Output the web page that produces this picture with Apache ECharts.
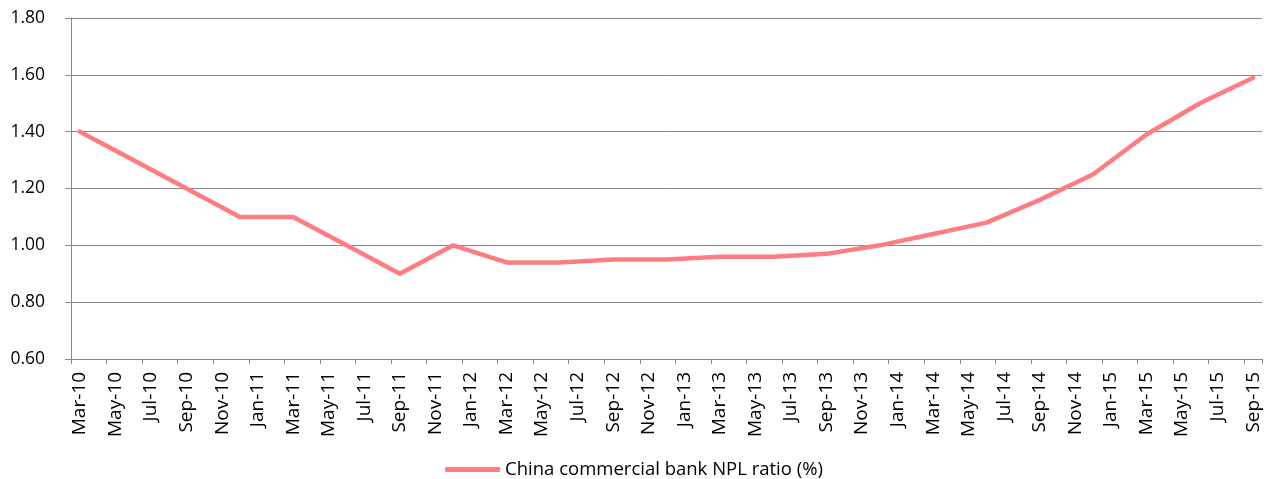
<!DOCTYPE html>
<html>
<head>
<meta charset="utf-8">
<script src="https://cdn.jsdelivr.net/npm/echarts@6/dist/echarts.min.js"></script>
<style>html,body{margin:0;padding:0;background:#fff}#c{width:1268px;height:479px}</style>
</head>
<body>
<div id="c"></div>
<script>
const months = [
 'Mar-10','Apr-10','May-10','Jun-10','Jul-10','Aug-10','Sep-10','Oct-10','Nov-10','Dec-10',
 'Jan-11','Feb-11','Mar-11','Apr-11','May-11','Jun-11','Jul-11','Aug-11','Sep-11','Oct-11','Nov-11','Dec-11',
 'Jan-12','Feb-12','Mar-12','Apr-12','May-12','Jun-12','Jul-12','Aug-12','Sep-12','Oct-12','Nov-12','Dec-12',
 'Jan-13','Feb-13','Mar-13','Apr-13','May-13','Jun-13','Jul-13','Aug-13','Sep-13','Oct-13','Nov-13','Dec-13',
 'Jan-14','Feb-14','Mar-14','Apr-14','May-14','Jun-14','Jul-14','Aug-14','Sep-14','Oct-14','Nov-14','Dec-14',
 'Jan-15','Feb-15','Mar-15','Apr-15','May-15','Jun-15','Jul-15','Aug-15','Sep-15'
];
const quarterDates = [
 'Mar-10','Jun-10','Sep-10','Dec-10','Mar-11','Jun-11','Sep-11','Dec-11',
 'Mar-12','Jun-12','Sep-12','Dec-12','Mar-13','Jun-13','Sep-13','Dec-13',
 'Mar-14','Jun-14','Sep-14','Dec-14','Mar-15','Jun-15','Sep-15'
];
const nplRatio = [
 1.40,1.30,1.20,1.10,1.10,1.00,0.90,1.00,
 0.94,0.94,0.95,0.95,0.96,0.96,0.97,1.00,
 1.04,1.08,1.16,1.25,1.39,1.50,1.59
];
const seriesName = 'China commercial bank NPL ratio (%)';
const yTicks = {min:0.6, max:1.8, interval:0.2};

const chart = echarts.init(document.getElementById('c'), null, {renderer:'canvas'});
const font = 'Open Sans';
chart.setOption({
  animation:false,
  backgroundColor:'#ffffff',
  grid:{left:71, right:6, top:18, bottom:120, containLabel:false},
  legend:{
    top:455, left:'center',
    data:[{name:seriesName, icon:'roundRect'}],
    itemWidth:55, itemHeight:5, itemGap:5,
    textStyle:{fontFamily:font, fontSize:18.5, color:'#000'}
  },
  xAxis:{
    type:'category', data:months, boundaryGap:true,
    axisLine:{lineStyle:{color:'#878787', width:1}},
    axisTick:{show:true, interval:1, length:5, lineStyle:{color:'#878787'}},
    axisLabel:{interval:1, rotate:90, margin:13, fontFamily:font, fontSize:19, color:'#000'},
    splitLine:{show:false}
  },
  yAxis:{
    type:'value', min:yTicks.min, max:yTicks.max, interval:yTicks.interval,
    axisLine:{show:true, lineStyle:{color:'#878787', width:1}},
    axisTick:{show:true, length:6, lineStyle:{color:'#878787'}},
    axisLabel:{margin:26, fontFamily:font, fontSize:17.5, color:'#000', formatter:v=>v.toFixed(2)},
    splitLine:{show:true, lineStyle:{color:'#878787', width:1}}
  },
  series:[{
    name:seriesName, type:'line', symbol:'none',
    data:quarterDates.map((d,i)=>[d, nplRatio[i]]),
    lineStyle:{color:'#FF7C80', width:4.5, cap:'round', join:'round'},
    itemStyle:{color:'#FF7C80'}
  }]
});
</script>
</body>
</html>
